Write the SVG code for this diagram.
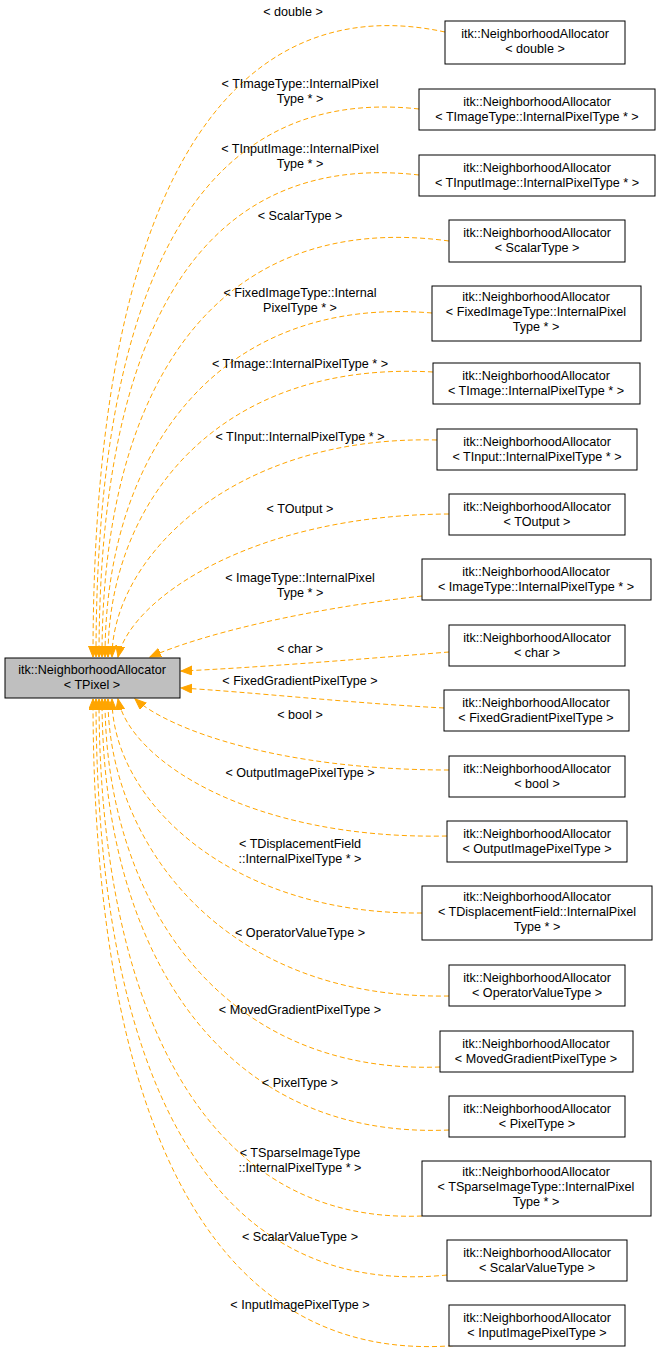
<svg xmlns="http://www.w3.org/2000/svg" width="661" height="1365" viewBox="0 0 661 1365">
<style>
text{font-family:"Liberation Sans",Arial,sans-serif;font-size:12.6px;text-anchor:middle;fill:#000}
.n{fill:#fff;stroke:#000;stroke-width:1}
.e{fill:none;stroke:#ffa500;stroke-width:1;stroke-dasharray:5,3;marker-end:url(#a)}
</style>
<defs><marker id="a" markerUnits="userSpaceOnUse" markerWidth="12" markerHeight="10" refX="11" refY="4.5" orient="auto"><path d="M0,0 L11,4.5 L0,9 Z" fill="#ffa500" stroke="#ffa500"/></marker></defs>
<rect width="661" height="1365" fill="#fff"/>
<g id="edges">
<path class="e" d="M445,32 C250,-10 93,150 93,657"/>
<path class="e" d="M419,109 C200,85 96,280 96,657"/>
<path class="e" d="M419,175 C200,150 99,330 99,657"/>
<path class="e" d="M449,241 C220,210 102,380 102,657"/>
<path class="e" d="M432,313 C220,295 105,450 105,657"/>
<path class="e" d="M433,372 C220,360 108,500 108,657"/>
<path class="e" d="M437,440 C230,435 112,560 112,657"/>
<path class="e" d="M449,514 C250,515 130,600 118,657"/>
<path class="e" d="M422,596 C300,610 200,635 150,657"/>
<path class="e" d="M449,652 C350,660 250,668 181,671"/>
<path class="e" d="M444,708 C350,703 250,692 181,688"/>
<path class="e" d="M449,770 C280,770 170,730 135,699"/>
<path class="e" d="M447,836 C250,840 130,760 118,699"/>
<path class="e" d="M422,913 C230,915 112,800 112,699"/>
<path class="e" d="M449,996 C220,1000 108,840 108,699"/>
<path class="e" d="M440,1067 C220,1075 105,900 105,699"/>
<path class="e" d="M449,1130 C220,1140 102,950 102,699"/>
<path class="e" d="M422,1216 C200,1225 99,1000 99,699"/>
<path class="e" d="M447,1275 C200,1300 96,1060 96,699"/>
<path class="e" d="M461,1345 C200,1370 93,1100 93,699"/>
</g>
<g id="labels">
<text x="293" y="16">&lt; double &gt;</text>
<text x="300" y="88">&lt; TImageType::InternalPixel</text><text x="300" y="103">Type * &gt;</text>
<text x="300" y="153">&lt; TInputImage::InternalPixel</text><text x="300" y="168">Type * &gt;</text>
<text x="300" y="220">&lt; ScalarType &gt;</text>
<text x="300" y="297">&lt; FixedImageType::Internal</text><text x="300" y="312">PixelType * &gt;</text>
<text x="300" y="368">&lt; TImage::InternalPixelType * &gt;</text>
<text x="300" y="441">&lt; TInput::InternalPixelType * &gt;</text>
<text x="300" y="513">&lt; TOutput &gt;</text>
<text x="300" y="582">&lt; ImageType::InternalPixel</text><text x="300" y="597">Type * &gt;</text>
<text x="300" y="653">&lt; char &gt;</text>
<text x="300" y="685">&lt; FixedGradientPixelType &gt;</text>
<text x="300" y="719">&lt; bool &gt;</text>
<text x="300" y="777">&lt; OutputImagePixelType &gt;</text>
<text x="300" y="848">&lt; TDisplacementField</text><text x="300" y="863">::InternalPixelType * &gt;</text>
<text x="300" y="937">&lt; OperatorValueType &gt;</text>
<text x="300" y="1014">&lt; MovedGradientPixelType &gt;</text>
<text x="300" y="1087">&lt; PixelType &gt;</text>
<text x="300" y="1157">&lt; TSparseImageType</text><text x="300" y="1172">::InternalPixelType * &gt;</text>
<text x="300" y="1241">&lt; ScalarValueType &gt;</text>
<text x="300" y="1309">&lt; InputImagePixelType &gt;</text>
</g>
<g id="n0"><rect x="5" y="658" width="175" height="40" fill="#bfbfbf" stroke="#000"/><text x="92" y="674">itk::NeighborhoodAllocator</text><text x="92" y="689">&lt; TPixel &gt;</text></g>
<g id="n1"><rect class="n" x="445" y="21" width="180" height="43"/><text x="535" y="38">itk::NeighborhoodAllocator</text><text x="535" y="53">&lt; double &gt;</text></g>
<g id="n2"><rect class="n" x="419" y="89" width="236" height="41"/><text x="537" y="106">itk::NeighborhoodAllocator</text><text x="537" y="121">&lt; TImageType::InternalPixelType * &gt;</text></g>
<g id="n3"><rect class="n" x="419" y="155" width="236" height="41"/><text x="537" y="172">itk::NeighborhoodAllocator</text><text x="537" y="187">&lt; TInputImage::InternalPixelType * &gt;</text></g>
<g id="n4"><rect class="n" x="449" y="220" width="176" height="42"/><text x="537" y="237">itk::NeighborhoodAllocator</text><text x="537" y="252">&lt; ScalarType &gt;</text></g>
<g id="n5"><rect class="n" x="432" y="286" width="209" height="55"/><text x="536" y="301">itk::NeighborhoodAllocator</text><text x="536" y="316">&lt; FixedImageType::InternalPixel</text><text x="536" y="331">Type * &gt;</text></g>
<g id="n6"><rect class="n" x="433" y="363" width="207" height="41"/><text x="536" y="380">itk::NeighborhoodAllocator</text><text x="536" y="395">&lt; TImage::InternalPixelType * &gt;</text></g>
<g id="n7"><rect class="n" x="437" y="429" width="200" height="41"/><text x="537" y="446">itk::NeighborhoodAllocator</text><text x="537" y="461">&lt; TInput::InternalPixelType * &gt;</text></g>
<g id="n8"><rect class="n" x="449" y="494" width="176" height="41"/><text x="537" y="511">itk::NeighborhoodAllocator</text><text x="537" y="526">&lt; TOutput &gt;</text></g>
<g id="n9"><rect class="n" x="422" y="559" width="229" height="41"/><text x="536" y="576">itk::NeighborhoodAllocator</text><text x="536" y="591">&lt; ImageType::InternalPixelType * &gt;</text></g>
<g id="n10"><rect class="n" x="449" y="625" width="176" height="41"/><text x="537" y="642">itk::NeighborhoodAllocator</text><text x="537" y="657">&lt; char &gt;</text></g>
<g id="n11"><rect class="n" x="444" y="690" width="185" height="41"/><text x="536" y="707">itk::NeighborhoodAllocator</text><text x="536" y="722">&lt; FixedGradientPixelType &gt;</text></g>
<g id="n12"><rect class="n" x="449" y="756" width="176" height="41"/><text x="537" y="773">itk::NeighborhoodAllocator</text><text x="537" y="788">&lt; bool &gt;</text></g>
<g id="n13"><rect class="n" x="447" y="821" width="180" height="41"/><text x="537" y="838">itk::NeighborhoodAllocator</text><text x="537" y="853">&lt; OutputImagePixelType &gt;</text></g>
<g id="n14"><rect class="n" x="422" y="886" width="230" height="54"/><text x="537" y="901">itk::NeighborhoodAllocator</text><text x="537" y="916">&lt; TDisplacementField::InternalPixel</text><text x="537" y="931">Type * &gt;</text></g>
<g id="n15"><rect class="n" x="449" y="965" width="176" height="41"/><text x="537" y="982">itk::NeighborhoodAllocator</text><text x="537" y="997">&lt; OperatorValueType &gt;</text></g>
<g id="n16"><rect class="n" x="440" y="1031" width="193" height="41"/><text x="536" y="1048">itk::NeighborhoodAllocator</text><text x="536" y="1063">&lt; MovedGradientPixelType &gt;</text></g>
<g id="n17"><rect class="n" x="449" y="1096" width="176" height="41"/><text x="537" y="1113">itk::NeighborhoodAllocator</text><text x="537" y="1128">&lt; PixelType &gt;</text></g>
<g id="n18"><rect class="n" x="422" y="1161" width="229" height="55"/><text x="536" y="1176">itk::NeighborhoodAllocator</text><text x="536" y="1191">&lt; TSparseImageType::InternalPixel</text><text x="536" y="1206">Type * &gt;</text></g>
<g id="n19"><rect class="n" x="447" y="1240" width="180" height="41"/><text x="537" y="1257">itk::NeighborhoodAllocator</text><text x="537" y="1272">&lt; ScalarValueType &gt;</text></g>
<g id="n20"><rect class="n" x="449" y="1305" width="176" height="41"/><text x="537" y="1322">itk::NeighborhoodAllocator</text><text x="537" y="1337">&lt; InputImagePixelType &gt;</text></g>
</svg>
